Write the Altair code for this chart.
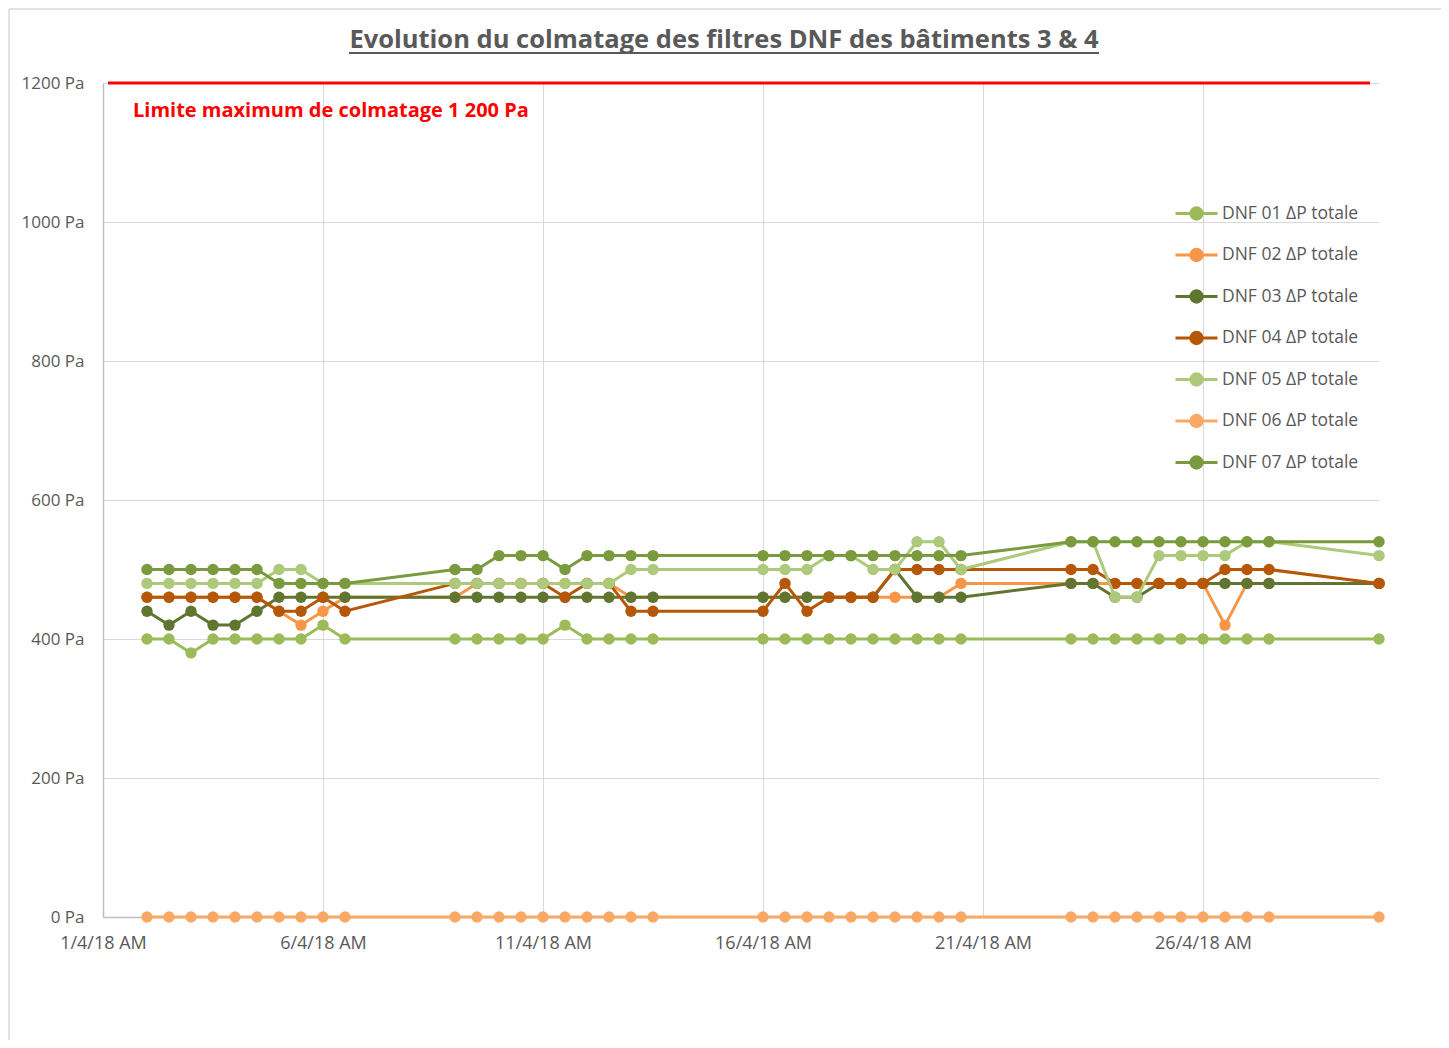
import altair as alt
import pandas as pd

# ---- data ----
series_names = [
    "DNF 01 ΔP totale", "DNF 02 ΔP totale", "DNF 03 ΔP totale", "DNF 04 ΔP totale",
    "DNF 05 ΔP totale", "DNF 06 ΔP totale", "DNF 07 ΔP totale",
]
series_colors = ["#9BBB59", "#F79646", "#5F7530", "#B65708", "#ADC97B", "#F9A965", "#7A9A3E"]

measure_days = [2, 3, 4, 5, 6, 9, 10, 11, 12, 13, 16, 17, 18, 19, 20, 23, 24, 25, 26, 27]
times = [f"2018-04-{d:02d}T{h}:00:00Z" for d in measure_days for h in ("00", "12")] + ["2018-04-30T00:00:00Z"]

dnf01 = [400, 400, 380, 400, 400, 400, 400, 400, 420, 400,
         400, 400, 400, 400, 400, 420, 400, 400, 400, 400,
         400, 400, 400, 400, 400, 400, 400, 400, 400, 400,
         400, 400, 400, 400, 400, 400, 400, 400, 400, 400,
         400]
dnf02 = [460, 460, 460, 460, 460, 460, 440, 420, 440, 460,
         460, 480, 480, 480, 480, 480, 480, 480, 460, 460,
         460, 460, 460, 460, 460, 460, 460, 460, 460, 480,
         480, 480, 480, 480, 480, 480, 480, 420, 480, 480,
         480]
dnf03 = [440, 420, 440, 420, 420, 440, 460, 460, 460, 460,
         460, 460, 460, 460, 460, 460, 460, 460, 460, 460,
         460, 460, 460, 460, 460, 460, 500, 460, 460, 460,
         480, 480, 460, 460, 480, 480, 480, 480, 480, 480,
         480]
dnf04 = [460, 460, 460, 460, 460, 460, 440, 440, 460, 440,
         480, 480, 480, 480, 480, 460, 480, 480, 440, 440,
         440, 480, 440, 460, 460, 460, 500, 500, 500, 500,
         500, 500, 480, 480, 480, 480, 480, 500, 500, 500,
         480]
dnf05 = [480, 480, 480, 480, 480, 480, 500, 500, 480, 480,
         480, 480, 480, 480, 480, 480, 480, 480, 500, 500,
         500, 500, 500, 520, 520, 500, 500, 540, 540, 500,
         540, 540, 460, 460, 520, 520, 520, 520, 540, 540,
         520]
dnf06 = [0] * 41
dnf07 = [500, 500, 500, 500, 500, 500, 480, 480, 480, 480,
         500, 500, 520, 520, 520, 500, 520, 520, 520, 520,
         520, 520, 520, 520, 520, 520, 520, 520, 520, 520,
         540, 540, 540, 540, 540, 540, 540, 540, 540, 540,
         540]
all_values = [dnf01, dnf02, dnf03, dnf04, dnf05, dnf06, dnf07]

y_ticks = [0, 200, 400, 600, 800, 1000, 1200]
limit_value = 1200
title_text = "Evolution du colmatage des filtres DNF des bâtiments 3 & 4"
limit_text = "Limite maximum de colmatage 1 200 Pa"

rows = []
for name, vals in zip(series_names, all_values):
    for t, v in zip(times, vals):
        rows.append({"s": name, "t": t, "v": v})
df = pd.DataFrame(rows)

FONT = "Open Sans"
GREY = "#595959"
W, H = 1276, 834


def dt(day):
    return alt.DateTime(year=2018, month=4, date=day, utc=True)


x_enc = alt.X(
    "t:T",
    scale=alt.Scale(type="utc", domain=[dt(1), dt(30)]),
    axis=alt.Axis(
        values=[dt(1), dt(6), dt(11), dt(16), dt(21), dt(26)],
        labelExpr="utcFormat(datum.value, '%-d/%-m/%y') + ' AM'",
        title=None, grid=True, gridColor="#D9D9D9", gridWidth=1,
        domainColor="#BFBFBF", domainWidth=1.5, ticks=False,
        labelPadding=17, labelFontSize=18, labelColor=GREY, labelFont=FONT,
        labelFlush=False,
    ),
)
y_enc = alt.Y(
    "v:Q",
    scale=alt.Scale(domain=[0, 1200], nice=False),
    axis=alt.Axis(
        values=y_ticks, labelExpr="datum.value + ' Pa'",
        title=None, grid=True, gridColor="#D9D9D9", gridWidth=1,
        domainColor="#BFBFBF", domainWidth=1.5, ticks=False,
        labelPadding=19, labelFontSize=17, labelColor=GREY, labelFont=FONT,
    ),
)

LEGEND_PATH = "M-1,0H1M0.27,0A0.27,0.27,0,1,1,-0.27,0A0.27,0.27,0,1,1,0.27,0Z"
color_enc = alt.Color(
    "s:N",
    scale=alt.Scale(domain=series_names, range=series_colors),
    legend=alt.Legend(
        title=None, orient="none", legendX=1071, legendY=108,
        symbolType=LEGEND_PATH, symbolSize=1764, symbolStrokeWidth=3, symbolOpacity=1,
        labelFontSize=17.5, labelColor=GREY, labelFont=FONT, labelOffset=3,
        rowPadding=6.5, padding=0,
    ),
)

base = alt.Chart(df)
layers = []

frame_df = pd.DataFrame({"a": [0]})
frame_style = dict(color="#D9D9D9", strokeWidth=1.5)
layers.append(alt.Chart(frame_df).mark_rule(**frame_style).encode(
    x=alt.value(-94), y=alt.value(-74), y2=alt.value(990)))
layers.append(alt.Chart(frame_df).mark_rule(**frame_style).encode(
    x=alt.value(1339), y=alt.value(-74), y2=alt.value(990)))
layers.append(alt.Chart(frame_df).mark_rule(**frame_style).encode(
    x=alt.value(-94), x2=alt.value(1339), y=alt.value(-74)))

axes_layer = base.mark_point(opacity=0).encode(x=x_enc, y=y_enc)
layers.append(axes_layer)

limit = alt.Chart(pd.DataFrame({"lim": [limit_value]})).mark_rule(
    color="#FF0000", strokeWidth=3
).encode(y=alt.Y("lim:Q"), x=alt.value(5), x2=alt.value(1267))
layers.append(limit)

for name in series_names:
    sub = base.transform_filter(alt.datum.s == name)
    layers.append(sub.mark_line(strokeWidth=3).encode(x=x_enc, y=y_enc, color=color_enc))
    layers.append(sub.mark_circle(size=130, opacity=1).encode(x=x_enc, y=y_enc, color=color_enc))

limit_label = alt.Chart(pd.DataFrame({"txt": [limit_text]})).mark_text(
    align="left", baseline="middle", font=FONT, fontSize=20, fontWeight="bold", color="#FF0000"
).encode(text="txt:N", x=alt.value(30), y=alt.value(28))
layers.append(limit_label)

title = alt.Chart(pd.DataFrame({"txt": [title_text]})).mark_text(
    align="center", baseline="middle", font=FONT, fontSize=25.5, fontWeight="bold", color=GREY
).encode(text="txt:N", x=alt.value(621), y=alt.value(-43))
layers.append(title)

underline = alt.Chart(pd.DataFrame({"a": [0]})).mark_rule(color=GREY, strokeWidth=2).encode(
    x=alt.value(246), x2=alt.value(996), y=alt.value(-30)
)
layers.append(underline)

chart = alt.layer(*layers).resolve_scale(y="shared", x="shared").properties(
    width=W, height=H,
    padding={"left": 95, "top": 75, "right": 62, "bottom": 123},
    autosize=alt.AutoSizeParams(type="none"),
    background="white",
).configure_view(strokeWidth=0)

chart.save("out.html", embed_options={"renderer": "svg", "actions": False})
